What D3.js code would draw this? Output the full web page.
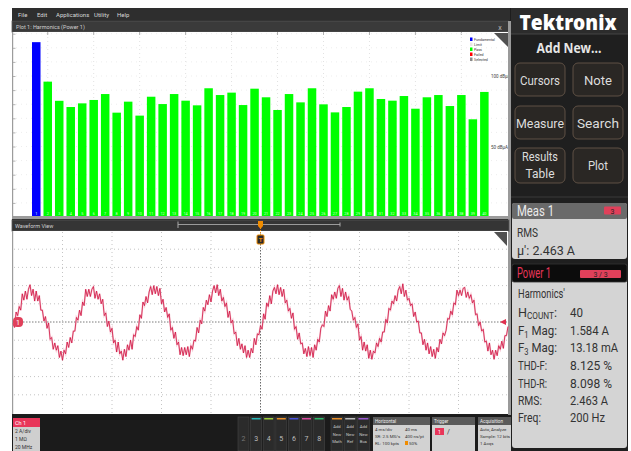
<!DOCTYPE html>
<html>
<head>
<meta charset="utf-8">
<script src="https://cdn.jsdelivr.net/npm/d3@7"></script>
<style>
  body { margin: 0; background: #fff; }
  svg { display: block; }
</style>
</head>
<body>
<svg id="scope" width="631" height="451"></svg>
<script>
// ---- Harmonics plot data (Power 1, current harmonics in dBµA) ----
const harmonicOrders = [1,2,3,4,5,6,7,8,9,10,11,12,13,14,15,16,17,18,19,20,
                        21,22,23,24,25,26,27,28,29,30,31,32,33,34,35,36,37,38,39,40];
const harmonicLevels = [124.0, 96.0, 82.4, 78.0, 80.6, 83.0, 87.2, 74.0, 81.8, 71.9,
                        85.3, 80.1, 87.2, 82.5, 79.2, 91.3, 86.5, 88.2, 79.4, 91.0,
                        84.9, 75.9, 87.2, 81.3, 91.3, 79.9, 74.2, 78.0, 88.9, 91.3,
                        83.7, 82.5, 85.8, 76.8, 84.9, 86.5, 78.7, 86.5, 69.3, 88.7];
const levelLabels = ["100 dBµA", "50 dBµA"];
const levelLabelValues = [100, 50];
const legendNames = ["Fundamental", "Limit", "Pass", "Failed", "Selected"];
const legendColors = ["#0000ff", "#e6e6e6", "#00ff00", "#ff0000", "#8a8a8a"];

// ---- Ch 1 current waveform (A), one sample every 0.125 ms, 40 ms record ----
const sampleIntervalMs = 0.125;
const currentSamples = [
  -0.2,-0.6,1.1,0.7,1.7,1.3,3.1,2.4,3.4,2.5,3.6,4.1,2.9,3.6,2.3,3.4,2.3,2.9,1.3,1.3,
  0.1,0.6,-0.7,-0.1,-1.9,-1.7,-3.0,-2.3,-3.1,-2.6,-3.9,-3.2,-4.2,-3.1,-3.5,-2.2,-2.8,-1.7,-2.3,-1.0,
  -1.0,0.5,0.2,1.3,0.7,2.2,1.8,3.6,2.8,3.6,2.8,3.6,3.9,2.6,3.4,2.5,3.1,2.0,2.5,0.7,
  1.0,-0.5,0.1,-1.1,-0.7,-2.3,-2.0,-3.3,-2.2,-3.5,-3.2,-4.2,-3.0,-3.8,-2.5,-3.1,-2.0,-3.0,-1.4,-1.6,
  -0.5,-0.9,0.8,0.4,2.2,1.8,2.8,2.1,3.3,3.9,3.0,4.0,3.1,3.9,2.9,3.7,2.0,2.5,1.1,1.6,
  0.5,0.9,-0.9,-0.6,-1.8,-1.1,-2.5,-2.2,-3.6,-2.8,-3.7,-2.8,-3.6,-2.7,-3.8,-2.6,-3.0,-2.0,-2.1,-0.6,
  -1.2,0.2,-0.2,1.6,1.2,2.4,1.9,3.0,2.2,3.4,4.0,3.2,4.1,2.9,3.6,2.3,2.7,1.7,2.1,0.5,
  1.2,-0.1,0.2,-1.3,-1.1,-2.6,-1.8,-3.0,-2.4,-3.4,-2.6,-3.9,-3.1,-3.9,-2.9,-3.4,-1.8,-2.5,-1.3,-1.4,
  -0.4,-0.8,0.9,0.3,2.1,1.7,2.9,2.0,3.4,3.8,3.1,4.1,3.0,3.8,2.8,3.6,2.1,2.4,1.2,1.5,
  0.4,1.0,-0.8,-0.5,-1.9,-1.2,-2.4,-2.3,-3.5,-2.9,-3.8,-2.7,-3.7,-2.8,-3.9,-2.5,-3.1,-1.9,-2.2,-0.7,
  -0.3,-0.5,1.2,0.6,1.8,1.2,3.0,2.5,3.3,2.6,3.7,4.0,2.8,3.7,2.4,3.3,2.4,2.8,1.4,1.2,
  0.2,0.5,-0.6,-0.2,-2.0,-1.6,-3.1,-2.2,-3.2,-2.5,-4.0,-3.1,-4.1,-3.2,-3.4,-2.3,-2.7,-1.8,-2.2,-1.1,
  -1.1,0.3,-0.1,1.5,1.3,2.3,2.0,2.9,2.3,3.5,3.9,3.1,4.2,2.8,3.5,2.4,2.6,1.8,2.0,0.6,
  1.1,0.0,0.1,-1.2,-1.2,-2.5,-1.9,-3.1,-2.3,-3.5,-2.7,-3.8,-3.0,-4.0,-2.8,-3.3,-1.9,-2.4,-1.2,-1.5,
  -0.9,0.4,0.3,1.2,0.8,2.1,1.9,3.5,2.9,3.5,2.9,3.7,3.8,2.7,3.3,2.6,3.0,2.1,2.4,0.8,
  0.9,-0.4,0.0,-1.0,-0.8,-2.2,-2.1,-3.2,-2.3,-3.6,-3.1,-4.1,-3.1,-3.7,-2.6,-3.0,-2.1,-2.9,-1.5,-1.5,
  -0.5
];

// ---- UI text ----
const menuItems = ["File", "Edit", "Applications", "Utility", "Help"];
const channelButtons = ["2", "3", "4", "5", "6", "7", "8"];
const channelColors = [null, "#2ab7b7", "#9ccc3c", "#e8902c", "#4a52d8", "#d84aa0", "#2fb86a"];
const addNewButtons = ["Math", "Ref", "Bus"];
const addNewColors = ["#e8902c", "#bdbdbd", "#9a5ad0"];
const measRows = [["Harmonics'", ""], ["HCOUNT:", "40"], ["F1 Mag:", "1.584 A"], ["F3 Mag:", "13.18 mA"],
                  ["THD-F:", "8.125 %"], ["THD-R:", "8.098 %"], ["RMS:", "2.463 A"], ["Freq:", "200 Hz"]];

const svg = d3.select("#scope");

function txt(parent, x, y, s, o = {}) {
  const t = parent.append("text")
    .attr("x", x).attr("y", y).text(s)
    .attr("font-family", o.family || "Roboto, 'Noto Sans', sans-serif")
    .attr("font-size", o.size || 10)
    .attr("fill", o.fill || "#ddd")
    .attr("font-weight", o.weight || 400)
    .attr("text-anchor", o.anchor || "start");
  if (o.len) t.attr("textLength", o.len).attr("lengthAdjust", "spacingAndGlyphs");
  return t;
}
function box(parent, x, y, w, h, fill, o = {}) {
  return parent.append("rect").attr("x", x).attr("y", y).attr("width", w).attr("height", h)
    .attr("fill", fill).attr("rx", o.rx || 0)
    .attr("stroke", o.stroke || "none").attr("stroke-width", o.sw || 1);
}

// ---- frame ----
box(svg, 12, 8, 616, 443, "#1d1d1d");

// menu bar
box(svg, 12, 8, 498, 12, "#2e2e2e");
const menuX = [18, 37, 56, 94, 117];
menuItems.forEach((m, i) => txt(svg, menuX[i], 17, m, { size: 6, fill: "#d8d8d8" }));

// ---- Harmonics plot ----
box(svg, 12, 21, 497, 11, "#3a3a3a", { stroke: "#575757", sw: 0.8 });
txt(svg, 16, 29, "Plot 1: Harmonics (Power 1)", { size: 5.5, fill: "#d0d0d0" });
txt(svg, 500, 29.5, "x", { size: 7, fill: "#bbb", anchor: "middle" });

box(svg, 13, 32, 495, 187, "#ffffff");

const x = d3.scaleBand().domain(harmonicOrders).range([32, 488.6]).paddingInner(0.26).paddingOuter(0);
const y = d3.scaleLinear().domain([0, 100]).range([217, 76]);

const hp = svg.append("g");
// faint grid
const gridOrders = harmonicOrders.filter(h => h % 4 === 2);
hp.selectAll("line.vg").data(gridOrders).join("line")
  .attr("x1", d => x(d) + x.bandwidth() / 2).attr("x2", d => x(d) + x.bandwidth() / 2)
  .attr("y1", 33).attr("y2", 216).attr("stroke", "#e2e2e2").attr("stroke-dasharray", "1,3");
hp.selectAll("line.vt").data(gridOrders).join("line")
  .attr("x1", d => x(d) + x.bandwidth() / 2).attr("x2", d => x(d) + x.bandwidth() / 2)
  .attr("y1", 32).attr("y2", 35).attr("stroke", "#b0b0b0");
// left ticks every 10 dB
hp.append("g").attr("transform", "translate(13,0)")
  .call(d3.axisRight(y).tickValues(d3.range(0, 140, 10)).tickSize(2.5).tickFormat(""))
  .call(g => g.select(".domain").remove())
  .call(g => g.selectAll("line").attr("stroke", "#b5b5b5"));
hp.selectAll("line.hg").data(d3.range(10, 140, 10)).join("line")
  .attr("x1", 16).attr("x2", 508).attr("y1", d => y(d)).attr("y2", d => y(d))
  .attr("stroke", "#ededed").attr("stroke-dasharray", "1,4");

// bars
hp.selectAll("rect.bar").data(harmonicOrders).join("rect")
  .attr("x", d => x(d)).attr("width", x.bandwidth())
  .attr("y", (d, i) => y(harmonicLevels[i]))
  .attr("height", (d, i) => y(0) - y(harmonicLevels[i]))
  .attr("fill", (d, i) => i === 0 ? "#0000ff" : "#00ff00");
hp.selectAll("text.bl").data(harmonicOrders).join("text")
  .attr("x", d => x(d) + x.bandwidth() / 2).attr("y", 215)
  .attr("text-anchor", "middle").attr("font-size", 3.8)
  .attr("font-family", "Roboto, sans-serif").attr("fill", "#d8ffd8").text(d => d);

// axis band
box(svg, 13, 216, 495, 3, "#9c9c9c");
box(svg, 12, 32, 1.2, 187, "#9c9c9c");

// level labels
levelLabels.forEach((l, i) => txt(svg, 491, y(levelLabelValues[i]) + 2, l, { size: 4.5, fill: "#444" }));

// legend
legendNames.forEach((n, i) => {
  box(svg, 470, 37.5 + i * 5, 2.5, 3.5, legendColors[i]);
  txt(svg, 474, 40.8 + i * 5, n, { size: 3.6, fill: "#333" });
});
svg.append("polygon").attr("points", "494,33 508,33 508,47").attr("fill", "#505050");

// right border column
box(svg, 508, 21, 3, 394, "#9a9a9a");

// ---- Waveform view ----
box(svg, 12, 220, 497, 11, "#353535", { stroke: "#555", sw: 0.8 });
txt(svg, 15, 228, "Waveform View", { size: 5.5, fill: "#d0d0d0" });
svg.append("line").attr("x1", 178).attr("x2", 340).attr("y1", 224.5).attr("y2", 224.5).attr("stroke", "#9a9a9a");
svg.append("line").attr("x1", 178).attr("x2", 178).attr("y1", 221.5).attr("y2", 228).attr("stroke", "#aaa");
svg.append("line").attr("x1", 340).attr("x2", 340).attr("y1", 222.5).attr("y2", 226.5).attr("stroke", "#aaa");

box(svg, 13, 231, 495, 183, "#ffffff");
box(svg, 12, 231, 1.2, 183, "#9c9c9c");

const tx = d3.scaleLinear().domain([0, 40]).range([13, 508]);
const ty = d3.scaleLinear().domain([-10, 10]).range([413, 231]);

const wv = svg.append("g");
const divT = d3.range(4, 40, 4);
const divA = d3.range(-8, 10, 2);
wv.selectAll("line.gx").data(divT).join("line")
  .attr("x1", d => tx(d)).attr("x2", d => tx(d)).attr("y1", 232).attr("y2", 413)
  .attr("stroke", d => d === 20 ? "#6a6a6a" : "#c4c4c4")
  .attr("stroke-dasharray", d => d === 20 ? "1.5,1.5" : "1,3");
wv.selectAll("line.gy").data(divA).join("line")
  .attr("x1", 14).attr("x2", 507).attr("y1", d => ty(d)).attr("y2", d => ty(d))
  .attr("stroke", d => d === 0 ? "#7a7a7a" : "#c4c4c4")
  .attr("stroke-dasharray", d => d === 0 ? "1.5,1.5" : "1,3");

// trace: pale persistence glow under the live trace
const line = d3.line().x((d, i) => tx(i * sampleIntervalMs)).y(d => ty(d));
wv.append("path").datum(currentSamples).attr("d", line)
  .attr("fill", "none").attr("stroke", "#f0a0b4").attr("stroke-width", 1.8).attr("opacity", 0.55);
wv.append("path").datum(currentSamples).attr("d", line)
  .attr("fill", "none").attr("stroke", "#cf1240").attr("stroke-width", 0.8);

// channel / level markers
box(svg, 13, 317, 10, 10, "#e0405a", { rx: 4 });
txt(svg, 18, 324.5, "1", { size: 7, fill: "#fff", anchor: "middle" });
svg.append("polygon").attr("points", "506,319 500,322 506,325").attr("fill", "#e0304f");

// trigger position marker
svg.append("line").attr("x1", tx(20)).attr("x2", tx(20)).attr("y1", 228).attr("y2", 235)
  .attr("stroke", "#f08c00").attr("stroke-dasharray", "1,1");
svg.append("polygon").attr("points", `${tx(20) - 2.5},221 ${tx(20) + 2.5},221 ${tx(20) + 2.5},226 ${tx(20)},229 ${tx(20) - 2.5},226`)
  .attr("fill", "#f08c00");
box(svg, tx(20) - 3.5, 235, 7, 9, "#2a2a2a", { stroke: "#f08c00", sw: 1, rx: 1 });
txt(svg, tx(20), 242, "T", { size: 6, fill: "#f08c00", anchor: "middle", weight: 700 });
svg.append("polygon").attr("points", "494,232 507,232 507,246").attr("fill", "#505050");

// ---- bottom bar ----
box(svg, 12, 415, 498, 36, "#1b1b1b");
box(svg, 13, 418, 27, 9, "#e8365a");
txt(svg, 15, 425, "Ch 1", { size: 5.5, fill: "#fff" });
box(svg, 13, 427, 27, 24, "#cfcfcf");
["2 A/div", "1 MΩ", "20 MHz"].forEach((s, i) => txt(svg, 15, 433 + i * 8, s, { size: 5, fill: "#333" }));

channelButtons.forEach((c, i) => {
  const bx = 238 + i * 12.6;
  box(svg, bx, 417, 11, 34, "#2b2b2b", { stroke: "#454545", sw: 0.6 });
  if (channelColors[i]) box(svg, bx + 1, 418, 9, 1.5, channelColors[i]);
  txt(svg, bx + 5.5, 441, c, { size: 7, fill: i === 0 ? "#777" : "#bdbdbd", anchor: "middle" });
});
addNewButtons.forEach((b, i) => {
  const bx = 331 + i * 13.2;
  box(svg, bx, 417, 12, 34, "#2b2b2b", { stroke: "#454545", sw: 0.6 });
  box(svg, bx + 1, 418, 10, 1.5, addNewColors[i]);
  ["Add", "New", b].forEach((s, j) => txt(svg, bx + 6, 428 + j * 7.5, s, { size: 4.2, fill: "#c8c8c8", anchor: "middle" }));
});

// Horizontal badge
box(svg, 373, 417, 57, 8, "#5a5a5a");
txt(svg, 375, 423, "Horizontal", { size: 4.6, fill: "#eee" });
box(svg, 373, 425, 57, 26, "#d2d2d2");
txt(svg, 375, 431, "4 ms/div", { size: 4.4, fill: "#333" });
txt(svg, 405, 431, "40 ms", { size: 4.4, fill: "#333" });
txt(svg, 375, 438, "SR: 2.5 MS/s", { size: 4.4, fill: "#333" });
txt(svg, 405, 438, "400 ns/pt", { size: 4.4, fill: "#333" });
txt(svg, 375, 445, "RL: 100 kpts", { size: 4.4, fill: "#333" });
box(svg, 405, 441, 3, 4, "#f08c00");
txt(svg, 409, 445, "50%", { size: 4.4, fill: "#333" });

// Trigger badge
box(svg, 432, 417, 43, 8, "#5a5a5a");
txt(svg, 434, 423, "Trigger", { size: 4.6, fill: "#eee" });
box(svg, 432, 425, 43, 26, "#d2d2d2");
box(svg, 435, 428, 9, 7, "#e8365a");
txt(svg, 439.5, 434, "1", { size: 5, fill: "#fff", anchor: "middle" });
txt(svg, 447, 434, "/", { size: 7, fill: "#333" });

// Acquisition badge
box(svg, 478, 417, 33, 8, "#5a5a5a");
txt(svg, 480, 423, "Acquisition", { size: 4.6, fill: "#eee" });
box(svg, 478, 425, 33, 26, "#d2d2d2");
txt(svg, 480, 431, "Auto,  Analyze", { size: 4.4, fill: "#333" });
txt(svg, 480, 438, "Sample: 12 bits", { size: 4.4, fill: "#333" });
txt(svg, 480, 445, "1 Acqs", { size: 4.4, fill: "#333" });

// ---- right-hand panel ----
box(svg, 511, 8, 117, 443, "#1f1f1f");
box(svg, 511, 8, 117, 26, "#2c2c2c");
svg.append("line").attr("x1", 511).attr("x2", 628).attr("y1", 34).attr("y2", 34).attr("stroke", "#444");
txt(svg, 568, 30, "Tektronix", { size: 21, weight: 800, fill: "#ffffff", anchor: "middle", len: 97, family: "'Open Sans', Roboto, sans-serif" });
txt(svg, 569, 53, "Add New...", { size: 14, weight: 700, fill: "#e6e6e6", anchor: "middle", len: 65, family: "'Open Sans', Roboto, sans-serif" });

const buttons = [
  { x: 515, y: 63, lines: ["Cursors"], lens: [40], base: [85] },
  { x: 573, y: 63, lines: ["Note"], lens: [28], base: [85] },
  { x: 515, y: 106, lines: ["Measure"], lens: [48], base: [128] },
  { x: 573, y: 106, lines: ["Search"], lens: [42], base: [128] },
  { x: 515, y: 148, lines: ["Results", "Table"], lens: [36, 29], base: [161, 178] },
  { x: 573, y: 148, lines: ["Plot"], lens: [20], base: [170] }
];
buttons.forEach(b => {
  box(svg, b.x, b.y, 50, b.y === 148 ? 35 : 33, "#2a2724", { stroke: "#5e5044", sw: 1, rx: 5 });
  b.lines.forEach((l, i) => txt(svg, b.x + 25, b.base[i], l, { size: 13, fill: "#dcdcdc", anchor: "middle", len: b.lens[i] }));
});
svg.append("line").attr("x1", 511).attr("x2", 628).attr("y1", 197).attr("y2", 197).attr("stroke", "#3a3a3a");

// Meas 1 card
box(svg, 512, 203, 115, 56, "#d4d4d4", { rx: 3 });
box(svg, 512, 203, 115, 16, "#6a6a6a", { rx: 2 });
txt(svg, 517, 216, "Meas 1", { size: 14, fill: "#ececec", len: 37 });
box(svg, 604, 206.5, 17, 8, "#e0405a", { rx: 1 });
txt(svg, 612.5, 213.5, "3", { size: 7, fill: "#222", anchor: "middle" });
txt(svg, 517, 237, "RMS", { size: 13, fill: "#333", len: 21 });
txt(svg, 517, 255, "µ': 2.463 A", { size: 13, fill: "#333", len: 58 });

// Power 1 card
box(svg, 512, 264, 115, 184, "#d4d4d4", { rx: 3 });
box(svg, 512, 264, 115, 18, "#0c0c0c", { stroke: "#333", sw: 0.8, rx: 2 });
txt(svg, 517, 278, "Power 1", { size: 14, fill: "#e8365a", len: 34 });
box(svg, 580, 270, 41, 8, "#e0405a", { rx: 1 });
txt(svg, 600.5, 277, "3  /  3", { size: 7, fill: "#222", anchor: "middle" });

const rowBase = [298, 317, 335, 352, 370, 388, 405, 422];
const labelLens = [47, 39, 39, 39, 29, 29, 24, 23];
const valueLens = [0, 13, 39, 48, 42, 42, 38, 35];
measRows.forEach((r, i) => {
  const yb = rowBase[i];
  if (r[0] === "HCOUNT:") {
    const t = svg.append("text").attr("x", 518).attr("y", yb)
      .attr("font-family", "Roboto, sans-serif").attr("font-size", 13).attr("fill", "#333")
      .attr("textLength", labelLens[i]).attr("lengthAdjust", "spacingAndGlyphs");
    t.append("tspan").text("H");
    t.append("tspan").attr("font-size", 8.5).attr("dy", 2).text("COUNT");
    t.append("tspan").attr("dy", -2).text(":");
  } else if (/^F\d/.test(r[0])) {
    const t = svg.append("text").attr("x", 518).attr("y", yb)
      .attr("font-family", "Roboto, sans-serif").attr("font-size", 13).attr("fill", "#333")
      .attr("textLength", labelLens[i]).attr("lengthAdjust", "spacingAndGlyphs");
    t.append("tspan").text("F");
    t.append("tspan").attr("font-size", 8.5).attr("dy", 2.5).text(r[0].charAt(1));
    t.append("tspan").attr("dy", -2.5).text(r[0].slice(2));
  } else {
    txt(svg, 518, yb, r[0], { size: 13, fill: "#333", len: labelLens[i] });
  }
  if (r[1]) txt(svg, 570, yb, r[1], { size: 13, fill: "#333", len: valueLens[i] });
});
</script>
</body>
</html>
